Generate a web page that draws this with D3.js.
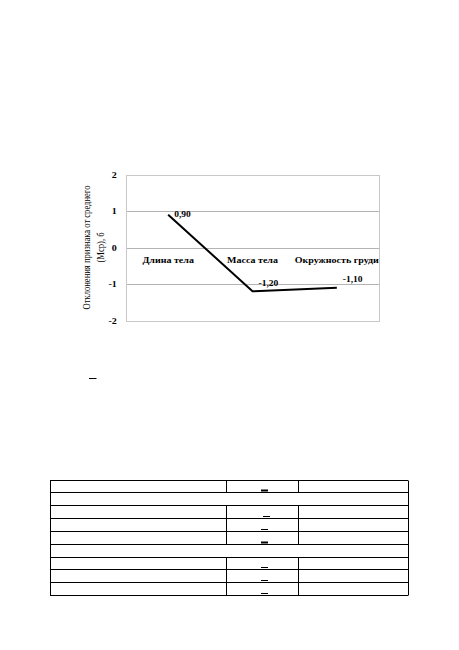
<!DOCTYPE html>
<html>
<head>
<meta charset="utf-8">
<script src="https://cdn.jsdelivr.net/npm/d3@7"></script>
<style>
  html, body { margin: 0; padding: 0; background: #fff; }
  svg { display: block; }
  text { font-family: "Liberation Serif", "Times New Roman", serif; fill: #000; }
</style>
</head>
<body>
<svg id="page" width="459" height="650"></svg>
<script>
// Отклонения признаков от среднего, в сигмах
const categories = ["Длина тела", "Масса тела", "Окружность груди"];
const deviations = [0.90, -1.20, -1.10];
const valueLabels = ["0,90", "-1,20", "-1,10"];
const yTicks = [-2, -1, 0, 1, 2];
const yTickLabels = ["-2", "-1", "0", "1", "2"];
const axisTitle = ["Отклонения признака от среднего", "(Мср), б"];

// Таблица: строки, объединённые на всю ширину, и строки с отметкой в средней колонке
const tableRows = 9;
const mergedRows = [1, 5];
const markedRows = [0, 2, 3, 4, 6, 7, 8];

const svg = d3.select("#page");
svg.append("rect").attr("width", 459).attr("height", 650).attr("fill", "#fff");

const plot = { left: 126, right: 379, top: 174.5, bottom: 320.5 };
const SX = 1.25; // горизонтальное растяжение надписей

const x = d3.scalePoint().domain(categories).range([plot.left, plot.right]).padding(0.5);
const y = d3.scaleLinear().domain([-2, 2]).range([plot.bottom, plot.top]);

const chart = svg.append("g");

// сетка
chart.selectAll("line.grid").data(yTicks).join("line")
  .attr("x1", plot.left).attr("x2", plot.right)
  .attr("y1", d => Math.round(y(d)) + 0.5).attr("y2", d => Math.round(y(d)) + 0.5)
  .attr("stroke", "#b4b4b4").attr("stroke-width", 1);

// рамка области построения
chart.append("rect")
  .attr("x", plot.left + 0.5).attr("y", Math.round(plot.top) + 0.5)
  .attr("width", plot.right - plot.left).attr("height", Math.round(plot.bottom) - Math.round(plot.top))
  .attr("fill", "none").attr("stroke", "#c8c8c8").attr("stroke-width", 1);

// подписи оси Y
const yAxis = d3.axisLeft(y).tickValues(yTicks).tickSize(0).tickPadding(0)
  .tickFormat(d => yTickLabels[yTicks.indexOf(d)]);
const yg = chart.append("g").attr("transform", `translate(${plot.left - 8},0)`).call(yAxis);
yg.select(".domain").remove();
yg.selectAll("text")
  .attr("font-family", "Liberation Serif").attr("font-weight", "bold").attr("font-size", 8)
  .attr("x", 0).attr("dy", "0.32em")
  .attr("transform", `scale(${SX},1)`)
  .attr("x", -1);

// название оси Y
axisTitle.forEach((line, i) => {
  chart.append("text")
    .attr("transform", `translate(${86 + i * 14.5},${y(0)}) scale(${SX},1) rotate(-90)`)
    .attr("text-anchor", "middle").attr("dy", "0.35em")
    .attr("font-size", 8.6)
    .text(line);
});

// подписи категорий
chart.selectAll("text.cat").data(categories).join("text")
  .attr("class", "cat")
  .attr("transform", d => `translate(${x(d)},${y(0) + 15}) scale(${SX},1)`)
  .attr("text-anchor", "middle")
  .attr("font-weight", "bold").attr("font-size", 8)
  .text(d => d);

// линия отклонений
const pts = categories.map((c, i) => ({ c, v: deviations[i], label: valueLabels[i] }));
chart.append("path")
  .datum(pts)
  .attr("fill", "none").attr("stroke", "#000").attr("stroke-width", 2)
  .attr("stroke-linejoin", "miter")
  .attr("d", d3.line().x(d => x(d.c)).y(d => y(d.v)));

// подписи значений
chart.selectAll("text.val").data(pts).join("text")
  .attr("class", "val")
  .attr("transform", (d, i) => {
    const dy = i === 0 ? 2.5 : -5.5;
    return `translate(${x(d.c) + 6},${y(d.v) + dy}) scale(${SX},1)`;
  })
  .attr("font-weight", "bold").attr("font-size", 7.6)
  .text(d => d.label);

// черта под графиком
svg.append("line")
  .attr("x1", 89).attr("x2", 96.5).attr("y1", 378.5).attr("y2", 378.5)
  .attr("stroke", "#000").attr("stroke-width", 1);

// таблица
const tbl = { left: 50, right: 408, top: 479.5, bottom: 595, c1: 225.7, c2: 298.3 };
const rowY = d3.scaleLinear().domain([0, tableRows]).range([tbl.top, tbl.bottom]);
const t = svg.append("g").attr("stroke", "#000").attr("stroke-width", 1);

t.selectAll("line.h").data(d3.range(tableRows + 1)).join("line")
  .attr("x1", tbl.left).attr("x2", tbl.right)
  .attr("y1", d => Math.round(rowY(d)) + 0.5).attr("y2", d => Math.round(rowY(d)) + 0.5);

t.selectAll("line.edge").data([tbl.left, tbl.right]).join("line")
  .attr("x1", d => d + 0.5).attr("x2", d => d + 0.5)
  .attr("y1", Math.round(tbl.top) + 0.5).attr("y2", Math.round(tbl.bottom) + 0.5);

const cells = d3.range(tableRows).filter(r => !mergedRows.includes(r));
[tbl.c1, tbl.c2].forEach(cx => {
  t.selectAll(null).data(cells).join("line")
    .attr("x1", Math.round(cx) + 0.5).attr("x2", Math.round(cx) + 0.5)
    .attr("y1", r => Math.round(rowY(r)) + 0.5).attr("y2", r => Math.round(rowY(r + 1)) + 0.5);
});

// отметки в средней колонке
svg.selectAll("line.mark").data(markedRows).join("line")
  .attr("x1", r => r === 2 ? 263 : 261).attr("x2", r => r === 2 ? 270 : 268)
  .attr("y1", r => Math.round(rowY(r + 1)) - 1.5).attr("y2", r => Math.round(rowY(r + 1)) - 1.5)
  .attr("stroke", "#000").attr("stroke-width", r => (r === 0 || r === 4) ? 2 : 1);
</script>
</body>
</html>
